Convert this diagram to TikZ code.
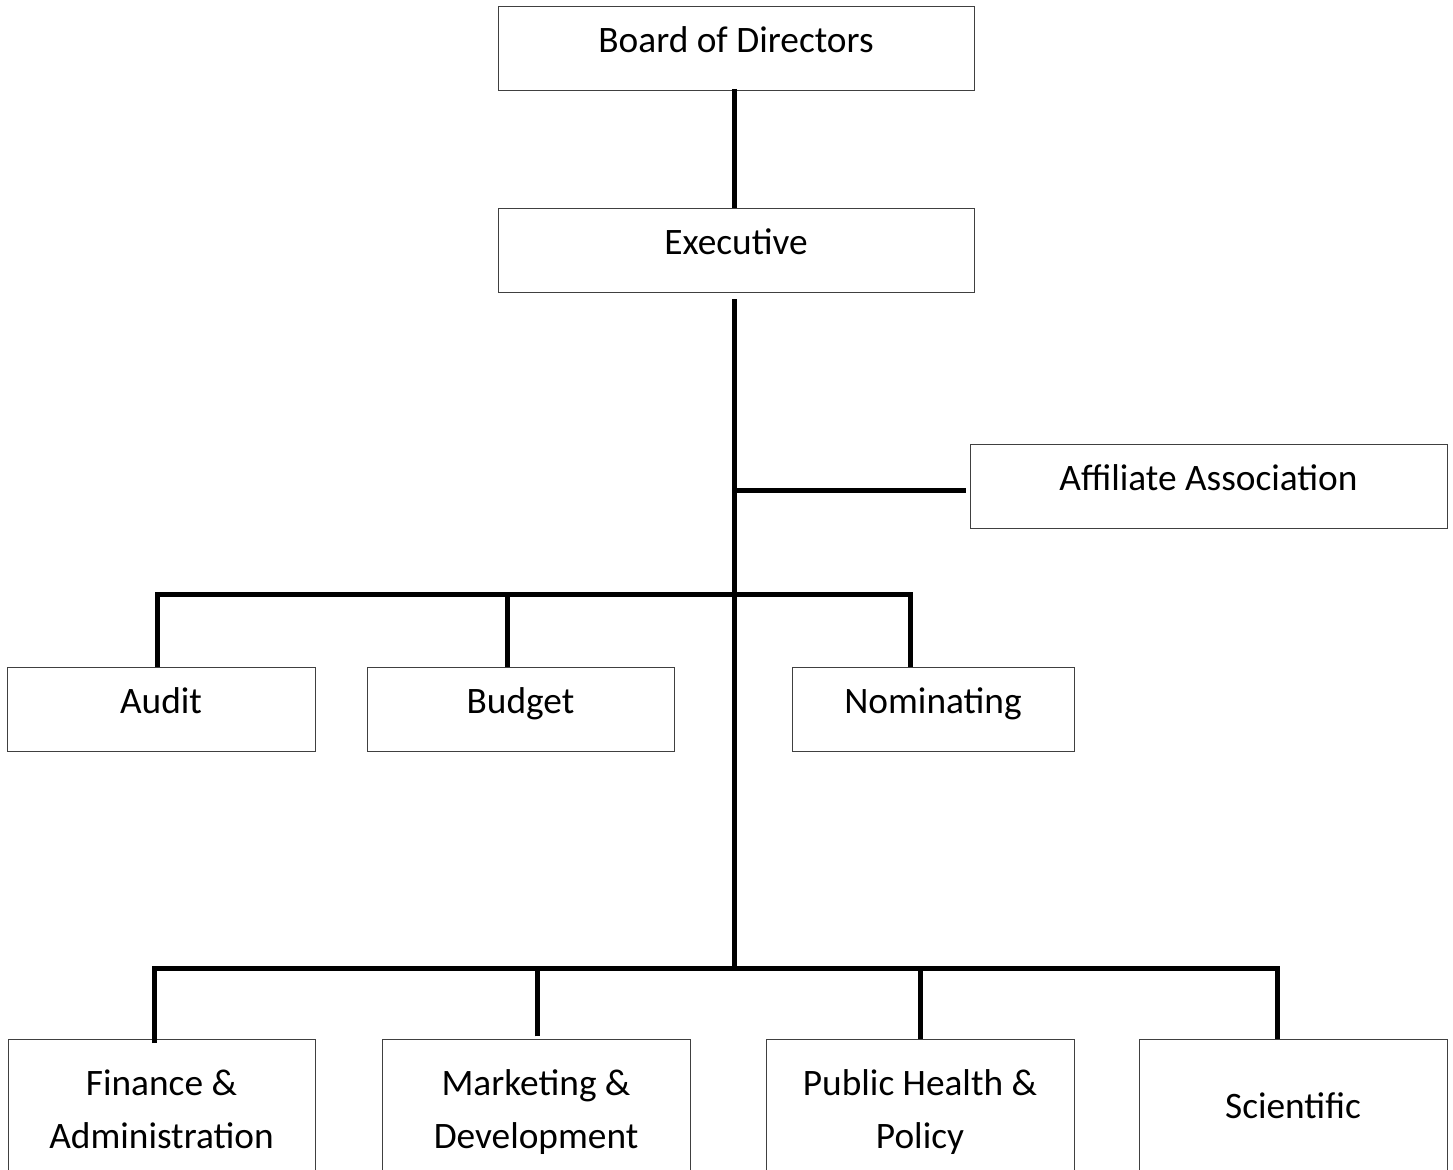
\documentclass[tikz,border=0pt]{standalone}
\usepackage{fontspec}
\setmainfont{Carlito}
\usetikzlibrary{positioning}

\begin{document}
\begin{tikzpicture}[x=0.75pt,y=-0.75pt,
  box/.style={draw=black!75,line width=0.75pt,inner sep=0pt,anchor=north,align=center,
    font=\fontsize{28}{40}\selectfont,minimum width=#1*0.75pt,
    text height=34.5pt,text depth=28.5pt},
  tall/.style={text height=82pt,text depth=23pt},
  link/.style={line width=3.75pt,black}]
\useasboundingbox (0,0) rectangle (1453,1170);

% board and executive
\node[box=476] (bod) at (736,6) {Board of Directors};
\node[box=476] (exe) at (736,208) {Executive};
\node[box=477] (aff) at (1208.5,444) {Affiliate Association};

% committees
\node[box=308] (aud) at (161,667) {Audit};
\node[box=307] (bud) at (520.5,667) {Budget};
\node[box=282] (nom) at (933,667) {Nominating};

% lower row
\node[box=307,tall] (fin) at (161.5,1039) {Finance \&\\Administration};
\node[box=308,tall] (mkt) at (536,1039) {Marketing \&\\Development};
\node[box=308,tall] (phl) at (920,1039) {Public Health \&\\Policy};
\node[box=308,text height=59.25pt,text depth=45.75pt] (sci) at (1293,1039) {Scientific};

% connectors
\coordinate (spine) at (734,0);
\coordinate (bar1) at (734,594);
\coordinate (bar2) at (734,968);
\coordinate (affin) at ([xshift=-3pt,yshift=-3pt]aff.west);

\draw[link] ([yshift=1.5pt]bod.south -| spine) -- (exe.north -| spine);
\draw[link] ([yshift=-4.5pt]exe.south -| spine) -- (bar2);
\draw[link] (affin -| spine) -- (affin);

\draw[link] ([xshift=-3pt]aud.north) |- (bar1) -| ([xshift=-17pt]nom.north);
\draw[link] ([xshift=-10pt]bud.north) |- (bar1);

\draw[link] ([xshift=-4.9pt,yshift=-3pt]fin.north) |- (bar2) -| ([xshift=-12pt]sci.north);
\draw[link] ([xshift=0.75pt,yshift=2pt]mkt.north) |- (bar2);
\draw[link] (phl.north) |- (bar2);
\end{tikzpicture}
\end{document}
